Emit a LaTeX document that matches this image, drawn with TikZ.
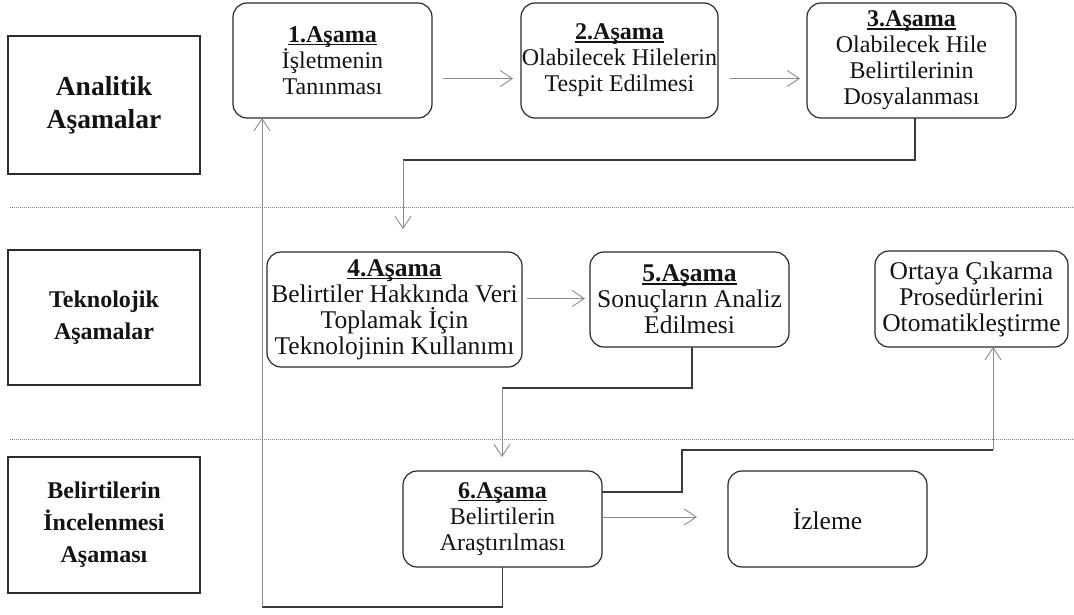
\documentclass[tikz,border=0pt]{standalone}
\usepackage{fontspec}
\setmainfont{Liberation Serif}
\usetikzlibrary{arrows.meta}
\definecolor{boxline}{HTML}{2B2B2B}
\definecolor{linkdark}{HTML}{3A3A3A}
\definecolor{linkgray}{HTML}{8C8C8C}
\definecolor{divgray}{HTML}{7A7A7A}
\definecolor{txt}{HTML}{141414}
% bold stage title with a rule close under the baseline
\newcommand\stagehead[1]{\textbf{\setbox0\hbox{#1}\rlap{\rule[-3pt]{\wd0}{1.6pt}}\box0}}
\begin{document}
\begin{tikzpicture}[x=1pt,y=-1pt,
  every node/.style={inner sep=0pt,outer sep=0pt},
  stage/.style={draw=boxline,line width=1.2pt,rounded corners=14pt,align=center,
    text=txt,font=\fontsize{24}{26}\selectfont},
  big/.style={font=\fontsize{25.5}{26}\selectfont},
  phase/.style={draw=boxline,line width=1.4pt,align=center,text=txt,
    font=\fontsize{24}{32}\selectfont\bfseries},
  link/.style={draw=linkdark,line width=1.6pt},
  flow/.style={draw=linkgray,line width=0.9pt,
    -{Straight Barb[length=12pt,width=16pt,line width=0.9pt]}},
  divider/.style={draw=divgray,line width=1pt,dash pattern=on 1pt off 1pt},
]
\path[fill=white,use as bounding box] (0,0) rectangle (1074,614);

% phase labels on the left
\node[phase,minimum width=192pt,minimum height=138pt,font=\fontsize{27.5}{33}\selectfont\bfseries]
  (p1) at (104,105) {Analitik\\Aşamalar};
\node[phase,minimum width=192pt,minimum height=135pt] (p2) at (104,317.5) {Teknolojik\\Aşamalar};
\node[phase,minimum width=192pt,minimum height=136pt] (p3) at (104,525) {Belirtilerin\\İncelenmesi\\Aşaması};

% dividers between the phases
\coordinate (d1a) at (10,207);  \coordinate (d1b) at (1074,207);
\coordinate (d2a) at (10,439);  \coordinate (d2b) at (1074,439);
\draw[divider] (d1a) -- (d1b);
\draw[divider] (d2a) -- (d2b);

% analytic stages
\node[stage,minimum width=199pt,minimum height=115pt] (b1) at (332.5,60.5)
  {\stagehead{1.Aşama}\\İşletmenin\\Tanınması};
\node[stage,minimum width=197pt,minimum height=115pt] (b2) at (619.5,60.5)
  {\stagehead{2.Aşama}\\Olabilecek Hilelerin\\Tespit Edilmesi};
\node[stage,minimum width=209pt,minimum height=115pt] (b3) at (911.5,60.5)
  {\stagehead{3.Aşama}\\Olabilecek Hile\\Belirtilerinin\\Dosyalanması};

% technological stages
\node[stage,big,minimum width=255pt,minimum height=115pt] (b4) at (394.5,309.5)
  {\stagehead{4.Aşama}\\Belirtiler Hakkında Veri\\Toplamak İçin\\Teknolojinin Kullanımı};
\node[stage,big,minimum width=199pt,minimum height=95pt] (b5) at (689.5,299.5)
  {\stagehead{5.Aşama}\\Sonuçların Analiz\\Edilmesi};
\node[stage,big,minimum width=193pt,minimum height=96pt] (o) at (971.5,299)
  {Ortaya Çıkarma\\Prosedürlerini\\Otomatikleştirme};

% investigation stages
\node[stage,minimum width=199pt,minimum height=96pt] (b6) at (502.5,519)
  {\stagehead{6.Aşama}\\Belirtilerin\\Araştırılması};
\node[stage,big,minimum width=199pt,minimum height=96pt] (iz) at (827.5,519) {İzleme};

% straight arrows
\draw[flow,shorten <=11pt,shorten >=8pt] ([yshift=-18pt]b1.east) -- ([yshift=-18pt]b2.west);
\draw[flow,shorten <=12pt,shorten >=7pt] ([yshift=-18pt]b2.east) -- ([yshift=-18pt]b3.west);
\draw[flow,shorten <=5pt,shorten >=5pt] ([yshift=11pt]b4.east) -- ([yshift=11pt]b4.east -| b5.west);
\draw[flow,shorten >=31pt] ([yshift=2pt]b6.east) -- ([yshift=2pt]b6.east -| iz.west);

% elbow connectors
\coordinate (k3) at (403,160);
\draw[link] ([xshift=3.5pt]b3.south) |- (k3);
\draw[flow,shorten >=23pt] (k3) -- (k3 |- b4.north);

\coordinate (k5) at (502,388);
\draw[link] ([xshift=2.5pt]b5.south) |- (k5);
\draw[flow,shorten >=14pt] (k5) -- (k5 |- b6.north);

\coordinate (k6a) at (682,450);
\coordinate (k6b) at (993,450);
\draw[link] ([yshift=27pt]b6.east) -| (k6a) -- (k6b);
\draw[flow] (k6b) -- (k6b |- o.south);

\coordinate (l2) at (262,607);
\draw[link] (b6.south) |- (l2);
\draw[flow] (l2) -- (l2 |- b1.south);
\end{tikzpicture}
\end{document}
